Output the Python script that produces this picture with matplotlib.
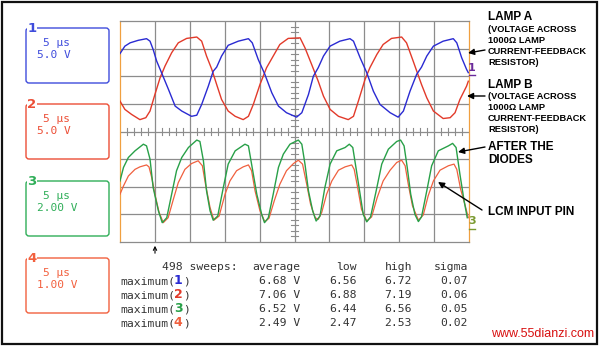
import matplotlib
matplotlib.use('Agg')
import matplotlib.pyplot as plt
from matplotlib.patches import Rectangle, FancyBboxPatch

# traces, x and y in screen divisions (10 x 8, 5 us/div)
ch1_x = [0, 0.14, 0.29, 0.52, 0.76, 0.86, 0.95, 1.05, 1.19, 1.39, 1.58, 1.77, 2.05, 2.20, 2.34, 2.53,
         2.67, 2.77, 2.91, 3.10, 3.39, 3.68, 3.79, 3.96, 4.15, 4.35, 4.54, 4.77, 5.06, 5.21, 5.40, 5.54,
         5.68, 5.83, 6.02, 6.30, 6.59, 6.69, 6.88, 7.07, 7.26, 7.45, 7.74, 7.97, 8.12, 8.31, 8.50, 8.64,
         8.79, 8.98, 9.26, 9.55, 9.65, 9.79, 9.93, 9.98]
ch1_y = [2.82, 3.09, 3.21, 3.30, 3.36, 3.27, 2.97, 2.55, 2.13, 1.52, 0.92, 0.74, 0.55, 0.59, 0.98, 1.64,
         2.18, 2.33, 2.73, 3.12, 3.27, 3.36, 3.21, 2.61, 2.07, 1.40, 0.92, 0.68, 0.52, 0.68, 1.34, 2.00,
         2.31, 2.73, 3.09, 3.27, 3.36, 3.27, 2.67, 2.13, 1.46, 0.98, 0.68, 0.52, 0.74, 1.46, 2.07, 2.33,
         2.73, 3.09, 3.27, 3.36, 3.21, 2.67, 2.25, 2.13]

ch2_x = [0, 0.14, 0.33, 0.57, 0.74, 0.86, 1.00, 1.15, 1.29, 1.48, 1.67, 1.91, 2.20, 2.34, 2.48, 2.63,
         2.77, 2.91, 3.10, 3.30, 3.53, 3.68, 3.82, 4.01, 4.20, 4.39, 4.58, 4.82, 5.16, 5.30, 5.49, 5.68,
         5.83, 6.02, 6.26, 6.54, 6.69, 6.83, 7.02, 7.16, 7.36, 7.54, 7.78, 8.07, 8.21, 8.40, 8.64, 8.79,
         8.98, 9.26, 9.46, 9.60, 9.74, 9.93, 9.98]
ch2_y = [1.10, 0.80, 0.62, 0.43, 0.50, 0.74, 1.34, 1.95, 2.37, 2.85, 3.21, 3.37, 3.42, 3.27, 2.73, 2.25,
         1.70, 1.16, 0.74, 0.55, 0.43, 0.55, 0.98, 1.70, 2.31, 2.73, 3.15, 3.37, 3.39, 3.03, 2.43, 1.82,
         1.28, 0.80, 0.55, 0.43, 0.55, 1.10, 1.88, 2.31, 2.79, 3.15, 3.37, 3.42, 3.21, 2.55, 1.70, 1.22,
         0.74, 0.47, 0.50, 0.68, 1.16, 1.64, 1.82]

ch3_x = [0, 0.10, 0.24, 0.43, 0.67, 0.76, 0.86, 0.95, 1.10, 1.21, 1.34, 1.48, 1.62, 1.77, 1.96, 2.20,
         2.29, 2.39, 2.48, 2.58, 2.67, 2.80, 2.96, 3.10, 3.30, 3.58, 3.68, 3.77, 3.92, 4.06, 4.14, 4.25,
         4.39, 4.54, 4.68, 4.87, 5.11, 5.21, 5.30, 5.40, 5.52, 5.62, 5.73, 5.87, 6.02, 6.21, 6.45, 6.57,
         6.67, 6.76, 6.88, 6.97, 7.07, 7.18, 7.34, 7.50, 7.69, 7.93, 8.04, 8.14, 8.23, 8.33, 8.45, 8.55,
         8.64, 8.79, 8.93, 9.12, 9.41, 9.53, 9.63, 9.74, 9.86, 9.95]
ch3_y = [-1.79, -1.30, -0.94, -0.70, -0.46, -0.52, -1.00, -2.03, -2.87, -3.30, -3.12, -2.27, -1.42, -0.94,
         -0.58, -0.31, -0.36, -1.06, -2.15, -2.87, -3.21, -3.06, -2.03, -1.18, -0.70, -0.46, -0.52, -1.18,
         -2.27, -3.00, -3.30, -3.12, -2.27, -1.30, -0.82, -0.46, -0.31, -0.46, -1.18, -2.15, -2.87, -3.24,
         -3.06, -2.03, -1.18, -0.70, -0.58, -0.46, -0.58, -1.30, -2.27, -3.00, -3.27, -3.09, -2.15, -1.18,
         -0.64, -0.36, -0.31, -0.52, -1.30, -2.27, -3.00, -3.26, -3.09, -2.15, -1.24, -0.70, -0.52, -0.43,
         -0.58, -1.55, -2.51, -3.12]

ch4_x = [0, 0.10, 0.24, 0.43, 0.57, 0.76, 0.83, 0.91, 1.00, 1.12, 1.24, 1.38, 1.53, 1.67, 1.86, 2.05,
         2.24, 2.36, 2.45, 2.58, 2.69, 2.84, 3.01, 3.15, 3.34, 3.53, 3.68, 3.77, 3.87, 4.01, 4.15, 4.27,
         4.42, 4.58, 4.77, 4.97, 5.11, 5.23, 5.35, 5.46, 5.59, 5.68, 5.78, 5.92, 6.07, 6.26, 6.45, 6.64,
         6.71, 6.81, 6.92, 7.07, 7.21, 7.37, 7.54, 7.74, 7.93, 8.07, 8.17, 8.26, 8.38, 8.55, 8.69, 8.83,
         8.98, 9.17, 9.41, 9.57, 9.65, 9.76, 9.88, 9.98]
ch4_y = [-2.27, -1.97, -1.61, -1.37, -1.28, -1.21, -1.28, -1.67, -2.27, -2.93, -3.30, -3.12, -2.45, -1.85,
         -1.37, -1.16, -1.06, -1.24, -1.91, -2.75, -3.21, -3.06, -2.27, -1.79, -1.42, -1.28, -1.21, -1.42,
         -2.15, -2.87, -3.27, -3.14, -2.51, -1.91, -1.42, -1.16, -1.04, -1.18, -1.91, -2.63, -3.12, -3.18,
         -2.93, -2.27, -1.79, -1.40, -1.28, -1.21, -1.37, -2.03, -2.82, -3.24, -3.09, -2.39, -1.79, -1.40,
         -1.12, -1.04, -1.24, -1.91, -2.69, -3.21, -3.02, -2.33, -1.79, -1.40, -1.24, -1.18, -1.37, -2.09,
         -2.63, -3.12]

# channel boxes
box_time = ['5 \u03bcs', '5 \u03bcs', '5 \u03bcs', '5 \u03bcs']
box_volts = ['5.0 V', '5.0 V', '2.00 V', '1.00 V']

# measurement table
col_names = ['average', 'low', 'high', 'sigma']
sweeps = 498
avg_v = [6.68, 7.06, 6.52, 2.49]
low_v = [6.56, 6.88, 6.44, 2.47]
high_v = [6.72, 7.19, 6.56, 2.53]
sigma_v = [0.07, 0.06, 0.05, 0.02]

colors = ['#2a2ad2', '#e23a2a', '#28a048', '#f0603e']
box_colors = ['#3f4cdc', '#ec4e36', '#2fae58', '#f2603e']
grid_col = '#8c8c8c'
edge_col = '#f0a040'
txt_col = '#333333'

fig = plt.figure(figsize=(6, 3.47), dpi=100)
fig.patch.set_facecolor('white')

# scope screen
ax = fig.add_axes([120/600, 1 - 242/347, 349/600, 221/347])
ax.set_xlim(0, 10)
ax.set_ylim(-4, 4)
ax.set_xticks([])
ax.set_yticks([])
for i in range(1, 10):
    ax.axvline(i, color=grid_col, lw=0.9, zorder=1)
for j in range(-3, 4):
    ax.axhline(j, color=grid_col, lw=0.9, zorder=1)
# minor ticks on the centre lines
for k in range(50):
    if k % 5:
        ax.plot([k/5, k/5], [-0.12, 0.12], color=grid_col, lw=0.8, zorder=1)
for k in range(40):
    if k % 5:
        ax.plot([4.9, 5.1], [-4 + k/5, -4 + k/5], color=grid_col, lw=0.8, zorder=1)
for side in ['top', 'bottom']:
    ax.spines[side].set_color(grid_col)
    ax.spines[side].set_linewidth(0.9)
for side in ['left', 'right']:
    ax.spines[side].set_color(edge_col)
    ax.spines[side].set_linewidth(0.9)

ax.plot(ch4_x, ch4_y, color=colors[3], lw=0.9, zorder=3)
ax.plot(ch3_x, ch3_y, color=colors[2], lw=1.0, zorder=4)
ax.plot(ch2_x, ch2_y, color=colors[1], lw=1.0, zorder=3)
ax.plot(ch1_x, ch1_y, color=colors[0], lw=1.0, zorder=4)

# overlay in pixel coordinates
ov = fig.add_axes([0, 0, 1, 1], zorder=5)
ov.set_xlim(0, 600)
ov.set_ylim(347, 0)
ov.axis('off')
ov.patch.set_alpha(0)

ov.add_patch(Rectangle((2, 2), 595, 342, fill=False, ec='#111111', lw=1.6))

box_tops = [28, 104, 181, 258]
for i in range(4):
    t = box_tops[i]
    ov.add_patch(FancyBboxPatch((26, t), 83, 55, boxstyle='round,pad=0,rounding_size=3',
                                fill=False, ec=box_colors[i], lw=1.0))
    ov.text(32, t, str(i + 1), color=box_colors[i], fontsize=9.5, fontweight='bold',
            ha='center', va='center', family='DejaVu Sans',
            bbox=dict(fc='white', ec='none', pad=0.3))
    ov.text(43, t + 15, box_time[i], color=box_colors[i], fontsize=8,
            family='DejaVu Sans Mono', ha='left', va='center')
    ov.text(37, t + 27, box_volts[i], color=box_colors[i], fontsize=8,
            family='DejaVu Sans Mono', ha='left', va='center')

# ground markers on the right edge
ov.text(472, 68, '1', color='#6a2a9a', fontsize=8, fontweight='bold', ha='center', va='center')
ov.plot([469, 475], [75, 75], color='#6a2a9a', lw=1)
ov.text(472, 221, '3', color='#7a9a30', fontsize=8, fontweight='bold', ha='center', va='center')
ov.plot([469, 475], [229, 229], color='#7a9a30', lw=1)

# trigger marker
ov.annotate('', xy=(155, 243), xytext=(155, 256),
            arrowprops=dict(arrowstyle='->', color='black', lw=0.8, mutation_scale=6))

# callouts
big = dict(family='Liberation Sans', fontweight='bold', fontsize=8.5, color='black', ha='left', va='center')
small = dict(family='Liberation Sans', fontweight='bold', fontsize=6.7, color='black', ha='left', va='center')
ov.text(488, 17, 'LAMP A', **big)
ov.text(488, 29.5, '(VOLTAGE ACROSS', **small)
ov.text(488, 40.5, '1000\u03a9 LAMP', **small)
ov.text(488, 51.5, 'CURRENT-FEEDBACK', **small)
ov.text(488, 62.5, 'RESISTOR)', **small)
ov.text(488, 85, 'LAMP B', **big)
ov.text(488, 96.5, '(VOLTAGE ACROSS', **small)
ov.text(488, 107.5, '1000\u03a9 LAMP', **small)
ov.text(488, 118.5, 'CURRENT-FEEDBACK', **small)
ov.text(488, 129.5, 'RESISTOR)', **small)
ov.text(488, 147, 'AFTER THE', **big)
ov.text(488, 160, 'DIODES', **big)
ov.text(488, 212, 'LCM INPUT PIN', **big)

arr = dict(arrowstyle='-|>', color='black', lw=1.0, mutation_scale=9, shrinkA=0, shrinkB=0)
ov.annotate('', xy=(468, 53), xytext=(485, 50), arrowprops=arr)
ov.annotate('', xy=(467, 96), xytext=(485, 96), arrowprops=arr)
ov.annotate('', xy=(458, 152), xytext=(485, 147), arrowprops=arr)
ov.annotate('', xy=(438, 182), xytext=(482, 210), arrowprops=arr)

# measurement table
fs = 8.2
cw = 0.602 * fs * 100 / 72
mono = dict(family='DejaVu Sans Mono', fontsize=fs, color=txt_col, va='center')
ov.text(162, 267, '%d sweeps:' % sweeps, ha='left', **mono)
col_right = [300, 357, 412, 468]
for c in range(4):
    ov.text(col_right[c], 267, col_names[c], ha='right', **mono)
for r in range(4):
    y = 281 + r * 14
    ov.text(120, y, 'maximum(', ha='left', **mono)
    ov.text(120 + 8.5 * cw, y, str(r + 1), color=colors[r], family='DejaVu Sans',
            fontsize=9, fontweight='bold', ha='center', va='center')
    ov.text(120 + 9.2 * cw, y, ')', ha='left', **mono)
    ov.text(col_right[0], y, '%.2f V' % avg_v[r], ha='right', **mono)
    ov.text(col_right[1], y, '%.2f' % low_v[r], ha='right', **mono)
    ov.text(col_right[2], y, '%.2f' % high_v[r], ha='right', **mono)
    ov.text(col_right[3], y, '%.2f' % sigma_v[r], ha='right', **mono)

ov.text(594, 334, 'www.55dianzi.com', family='Liberation Sans', fontsize=9,
        color='#d81010', ha='right', va='center')

fig.savefig('out.png', dpi=100)
